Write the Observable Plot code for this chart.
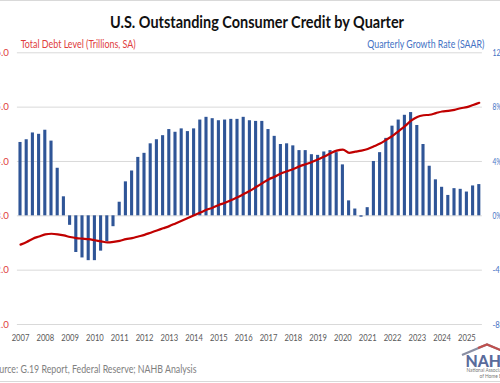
<!DOCTYPE html>
<html>
<head>
<meta charset="utf-8">
<script src="https://cdn.jsdelivr.net/npm/d3@7"></script>
<script src="https://cdn.jsdelivr.net/npm/@observablehq/plot@0.6"></script>
<style>
  html, body { margin: 0; padding: 0; background: #fff; overflow: hidden; }
  #chart { position: relative; width: 500px; height: 383px; }
</style>
</head>
<body>
<div id="chart"></div>
<script>
// ---- Data ----
const years = [2007, 2008, 2009, 2010, 2011, 2012, 2013, 2014, 2015, 2016,
               2017, 2018, 2019, 2020, 2021, 2022, 2023, 2024, 2025];
const quarterNames = ["Q1", "Q2", "Q3", "Q4"];

// Quarterly growth rate (SAAR, %)
const growth = [
  5.4, 5.6, 6.1, 6.0,
  6.3, 5.5, 3.5, 1.4,
  -0.7, -2.7, -3.1, -3.3,
  -3.3, -2.6, -1.9, -0.8,
  1.0, 2.5, 3.3, 4.3,
  4.6, 5.3, 5.6, 5.9,
  6.35, 6.15, 6.4, 6.2,
  6.4, 7.05, 7.25, 7.15,
  7.0, 7.05, 7.1, 7.1,
  7.25, 7.0, 6.95, 6.95,
  6.35, 5.85, 5.25, 5.3,
  5.15, 4.8, 4.8, 4.5,
  4.45, 4.7, 4.8, 4.65,
  3.75, 1.1, 0.5, -0.1,
  0.6, 4.0, 4.65, 5.7,
  6.6, 7.05, 7.4, 7.6,
  6.65, 5.25, 3.65, 2.65,
  2.1, 1.5, 2.0, 1.95,
  1.75, 2.2, 2.3
];

// Total debt level (trillions, SA)
const debt = [
  2.47, 2.52, 2.58, 2.62,
  2.66, 2.67, 2.66, 2.64,
  2.61, 2.59, 2.58, 2.57,
  2.55, 2.53, 2.51, 2.52,
  2.54, 2.57, 2.59, 2.62,
  2.65, 2.69, 2.73, 2.77,
  2.81, 2.86, 2.91, 2.96,
  3.01, 3.06, 3.11, 3.15,
  3.20, 3.24, 3.29, 3.34,
  3.40, 3.46, 3.53, 3.60,
  3.67, 3.72, 3.78, 3.82,
  3.86, 3.91, 3.95, 3.99,
  4.04, 4.09, 4.15, 4.20,
  4.22, 4.16, 4.18, 4.20,
  4.23, 4.28, 4.33, 4.40,
  4.47, 4.56, 4.65, 4.75,
  4.82, 4.85, 4.86, 4.89,
  4.92, 4.93, 4.95, 4.98,
  5.00, 5.04, 5.08
];

const growthTicks = [-8, -4, 0, 4, 8, 12];          // right axis (%)
const debtTicks = [1.0, 2.0, 3.0, 4.0, 5.0, 6.0];   // left axis (trillions)

// ---- Build table ----
const quarterLabels = years.flatMap(y => quarterNames.map(q => `${y} ${q}`)).slice(0, growth.length);
const data = growth.map((g, i) => ({ i, q: quarterLabels[i], g, d: debt[i] }));
// map debt (1..6 trillions) onto growth scale (-8..12 %)
const debtToY = d => (d - 1) / 5 * 20 - 8;
const yToDebt = v => (v + 8) / 20 * 5 + 1;
const yearIdx = years.map((y, k) => k * 4);

const RED = "#c00000";
const RED_TXT = "#e03c3c";
const BLUE = "#2f5597";
const BLUE_TXT = "#4472c4";
const GRID = "#d9d9d9";
const FONT = "Lato, 'Open Sans', sans-serif";

const W = 500, H = 383;
const chart = Plot.plot({
  width: W,
  height: H,
  marginTop: 52.3,
  marginBottom: 59,
  marginLeft: 16.9,
  marginRight: 18.1,
  style: { fontFamily: FONT, fontSize: "10px", background: "#fff", overflow: "hidden" },
  x: { type: "linear", domain: [-0.5, growth.length - 0.5], axis: null },
  y: { domain: [-8, 12], axis: null },
  marks: [
    Plot.ruleY(growthTicks, { stroke: GRID, strokeWidth: 1 }),
    Plot.rectY(data, {
      x1: d => d.i - 0.25,
      x2: d => d.i + 0.25,
      y1: 0,
      y2: "g",
      fill: BLUE
    }),
    Plot.lineY(data, {
      x: "i",
      y: d => debtToY(d.d),
      stroke: RED,
      strokeWidth: 2.2,
      curve: "monotone-x"
    }),
    Plot.axisY(growthTicks, {
      anchor: "left",
      label: null,
      tickSize: 0,
      tickPadding: 8.6,
      tickFormat: v => yToDebt(v).toFixed(1),
      fill: RED_TXT,
      fontSize: 9.5
    }),
    Plot.axisY(growthTicks, {
      anchor: "right",
      label: null,
      tickSize: 0,
      tickPadding: 10,
      tickFormat: v => v + "%",
      fill: BLUE_TXT,
      fontSize: 9.5
    }),
    Plot.axisX(yearIdx, {
      anchor: "bottom",
      label: null,
      tickSize: 0,
      tickPadding: 10,
      tickFormat: i => String(years[i / 4]),
      fill: "#595959",
      fontSize: 9.5
    })
  ]
});
document.getElementById("chart").appendChild(chart);

// narrow the tick labels (reference uses a condensed face)
const svg = d3.select(chart);
svg.selectAll('g[aria-label="x-axis tick label"] text')
  .attr("textLength", 17.7).attr("lengthAdjust", "spacingAndGlyphs");
svg.selectAll('g[aria-label="y-axis tick label"] text')
  .each(function () {
    const s = this.textContent;
    const w = s.length * 4.5;
    d3.select(this).attr("textLength", w).attr("lengthAdjust", "spacingAndGlyphs");
  });

// ---- Titles, source, logo ----
const TXT_FONT = "Lato, 'Open Sans', sans-serif";
function addText(str, x, y, opts) {
  const t = svg.append("text")
    .attr("x", x).attr("y", y)
    .attr("font-family", opts.family || TXT_FONT)
    .attr("font-size", opts.size)
    .attr("font-weight", opts.weight || "normal")
    .attr("fill", opts.fill)
    .attr("text-anchor", opts.anchor || "start")
    .text(str);
  if (opts.length) t.attr("textLength", opts.length).attr("lengthAdjust", "spacingAndGlyphs");
  return t;
}
// frame lines
svg.append("line").attr("x1", 0).attr("x2", W).attr("y1", 0.5).attr("y2", 0.5).attr("stroke", "#d9d9d9");
svg.append("line").attr("x1", 0).attr("x2", W).attr("y1", 381.5).attr("y2", 381.5).attr("stroke", "#d9d9d9");

addText("U.S. Outstanding Consumer Credit by Quarter", 110, 28, { size: 17, weight: "bold", fill: "#111", length: 294 });
addText("Total Debt Level (Trillions, SA)", 20.7, 47.5, { size: 11, fill: RED_TXT, length: 115 });
addText("Quarterly Growth Rate (SAAR)", 367.3, 47.5, { size: 11, fill: BLUE_TXT, length: 117 });
addText("Source: G.19 Report, Federal Reserve; NAHB Analysis", -10.5, 373, { size: 11, fill: "#808080", length: 207 });

// NAHB logo (partially cut off at the right edge, as in the reference)
svg.append("polyline")
  .attr("points", "462,355 487,344.5 505,352")
  .attr("fill", "none").attr("stroke", "#8a8fa3").attr("stroke-width", 2.2);
svg.append("polyline")
  .attr("points", "478,348 487,344.5 505,352")
  .attr("fill", "none").attr("stroke", "#c0504d").attr("stroke-width", 2.2);
addText("NAHB", 465.5, 366.5, { size: 16, weight: "900", fill: "#5a6b9b", length: 46, family: "Lato, sans-serif" });
addText("National Association", 466.5, 372, { size: 4.8, fill: "#777", family: "Lato, sans-serif" });
addText("of Home Builders", 479.5, 377.5, { size: 4.8, fill: "#777", family: "Lato, sans-serif" });
</script>
</body>
</html>
